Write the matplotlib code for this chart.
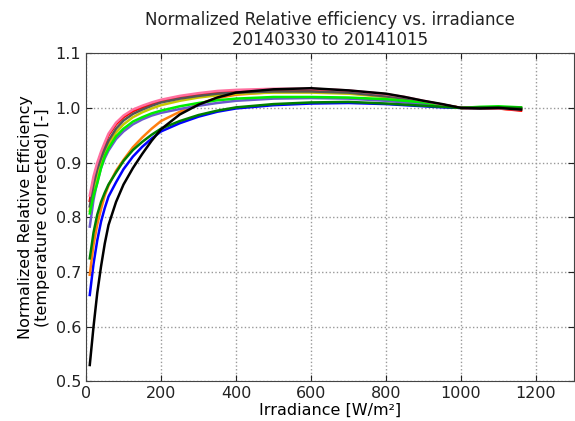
import numpy as np
import matplotlib
matplotlib.use("Agg")
import matplotlib.pyplot as plt

# irradiance bins [W/m2]
irr = [10, 20, 30, 40, 50, 60, 80, 100, 125, 150, 175, 200, 250, 300, 350, 400,
       500, 600, 700, 800, 850, 900, 950, 1000, 1050, 1100, 1160]

# normalized relative efficiency per period
eff_blue = [0.658, 0.715, 0.758, 0.792, 0.817, 0.838, 0.864, 0.888, 0.911, 0.929, 0.944, 0.957, 0.972, 0.984,
            0.993, 0.999, 1.005, 1.008, 1.009, 1.007, 1.005, 1.003, 1.001, 1.0, 1.0, 1.0, 0.999]
eff_orange = [0.695, 0.75, 0.787, 0.815, 0.84, 0.858, 0.885, 0.905, 0.928, 0.946, 0.962, 0.976, 0.993, 1.007,
              1.018, 1.024, 1.029, 1.030, 1.027, 1.021, 1.017, 1.012, 1.006, 1.0, 1.0, 0.999, 0.996]
eff_red = [0.83, 0.868, 0.895, 0.916, 0.933, 0.95, 0.97, 0.983, 0.994, 1.001, 1.007, 1.012, 1.019, 1.025,
           1.029, 1.031, 1.033, 1.033, 1.030, 1.023, 1.018, 1.012, 1.006, 1.0, 1.0, 0.999, 0.995]
eff_purple = [0.783, 0.832, 0.865, 0.89, 0.908, 0.922, 0.943, 0.957, 0.97, 0.979, 0.986, 0.991, 0.998, 1.004,
              1.009, 1.013, 1.017, 1.018, 1.017, 1.013, 1.010, 1.007, 1.004, 1.0, 1.0, 1.0, 0.999]
eff_yellow = [0.812, 0.852, 0.878, 0.9, 0.918, 0.933, 0.955, 0.97, 0.983, 0.992, 0.999, 1.005, 1.013, 1.019,
              1.023, 1.026, 1.028, 1.028, 1.026, 1.020, 1.016, 1.011, 1.005, 1.0, 1.001, 1.001, 1.0]
eff_gray = [0.82, 0.86, 0.888, 0.908, 0.925, 0.94, 0.962, 0.977, 0.989, 0.997, 1.004, 1.010, 1.017, 1.022,
            1.026, 1.028, 1.030, 1.030, 1.028, 1.021, 1.017, 1.011, 1.005, 1.0, 1.0, 0.999, 0.998]
eff_green = [0.807, 0.84, 0.862, 0.89, 0.912, 0.926, 0.948, 0.962, 0.975, 0.983, 0.99, 0.995, 1.003, 1.009,
             1.014, 1.017, 1.020, 1.020, 1.019, 1.016, 1.013, 1.010, 1.005, 1.0, 1.002, 1.003, 1.001]
eff_pink = [0.84, 0.875, 0.90, 0.92, 0.937, 0.953, 0.973, 0.986, 0.997, 1.004, 1.010, 1.015, 1.022, 1.027,
            1.031, 1.033, 1.035, 1.035, 1.032, 1.025, 1.020, 1.013, 1.006, 1.0, 1.0, 0.999, 0.997]
eff_dkgreen = [0.725, 0.772, 0.805, 0.828, 0.845, 0.86, 0.882, 0.903, 0.923, 0.938, 0.951, 0.962, 0.976, 0.987,
               0.995, 1.001, 1.007, 1.010, 1.011, 1.008, 1.006, 1.004, 1.002, 1.0, 1.001, 1.001, 1.0]
eff_black = [0.53, 0.60, 0.662, 0.71, 0.752, 0.786, 0.828, 0.860, 0.890, 0.916, 0.94, 0.961, 0.988, 1.006,
             1.019, 1.028, 1.034, 1.036, 1.032, 1.026, 1.020, 1.013, 1.007, 1.0, 0.999, 1.0, 0.997]

series = [
    (eff_blue, "#0000ff"),
    (eff_orange, "#ff7f0e"),
    (eff_red, "#ff0000"),
    (eff_purple, "#6a5acd"),
    (eff_yellow, "#c8c800"),
    (eff_gray, "#555555"),
    (eff_green, "#00ee00"),
    (eff_pink, "#ff6f9f"),
    (eff_dkgreen, "#008000"),
    (eff_black, "#000000"),
]

plt.rcParams["font.family"] = "DejaVu Sans"
plt.rcParams["font.size"] = 11.5
plt.rcParams["text.color"] = "#222222"
plt.rcParams["xtick.color"] = "#222222"
plt.rcParams["ytick.color"] = "#222222"

fig = plt.figure(figsize=(5.75, 4.21), dpi=100)
ax = fig.add_axes([0.1496, 0.094, 0.8478, 0.7796])

for vals, col in series:
    ax.plot(irr, vals, color=col, lw=1.8)

ax.set_xlim(0, 1300)
ax.set_ylim(0.5, 1.1)
ax.set_xticks(np.arange(0, 1201, 200))
ax.set_yticks(np.arange(0.5, 1.11, 0.1))
ax.set_yticklabels(["0.5", "0.6", "0.7", "0.8", "0.9", "1.0", "1.1"])
ax.tick_params(direction="in", top=True, right=True, length=4)
ax.grid(True, linestyle=":", color="#999999", lw=1)
for s in ax.spines.values():
    s.set_color("#444444")

ax.set_title("Normalized Relative efficiency vs. irradiance\n20140330 to 20141015", fontsize=12, linespacing=1.1)
ax.set_xlabel("Irradiance [W/m²]", labelpad=1)
ax.set_ylabel("Normalized Relative Efficiency\n(temperature corrected) [-]", labelpad=4)

fig.savefig("out.png", dpi=100)
